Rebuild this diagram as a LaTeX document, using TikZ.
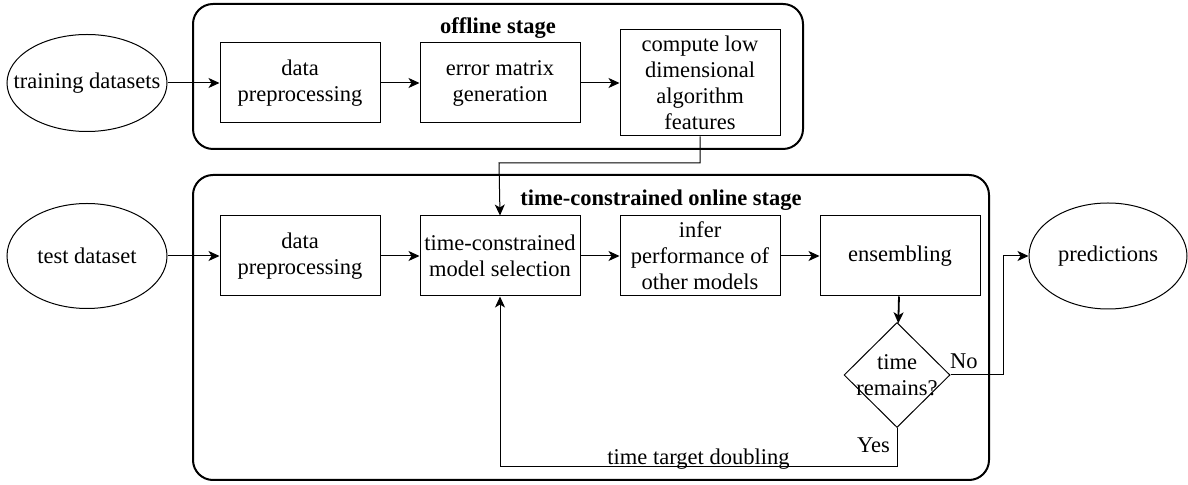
\documentclass[tikz,border=0pt]{standalone}
\usepackage{fontspec}
\setmainfont{Liberation Serif}
\usetikzlibrary{shapes,arrows.meta,positioning}
\tikzset{
  every node/.style={
    font=\fontsize{11.25pt}{13pt}\selectfont
  },
  title/.style={
    font=\fontsize{11.25pt}{13pt}\selectfont\bfseries
  },
  process/.style={
    shape=rectangle,
    draw,
    line width=0.5pt,
    minimum width=80pt,
    minimum height=40pt,
    inner sep=0pt,
    align=center
  },
  terminal/.style={
    shape=ellipse,
    draw,
    line width=0.5pt,
    minimum width=80pt,
    minimum height=#1,
    inner sep=0pt
  },
  decision/.style={
    shape=diamond,
    draw,
    line width=0.5pt,
    minimum width=53pt,
    minimum height=52.5pt,
    inner sep=0pt
  },
  stage/.style={
    draw,
    line width=1pt,
    rounded corners=10pt
  },
  flow/.style={
    -{Stealth[length=5.5pt,width=5pt,inset=1.5pt]},
    line width=0.5pt
  }
}

\begin{document}
\begin{tikzpicture}[x=0.5pt,y=-0.5pt,node distance=19.5pt]
  \useasboundingbox (0,0) rectangle (1188,485);
  % stage frames
  \draw[stage] (193,4) rectangle (803,149);
  \draw[stage] (193,175) rectangle (989,480);
  \node[title] (offtitle) at (498,28) {offline stage};
  \node[title] (ontitle) at (661,200) {time-constrained online stage};

  % offline stage
  \node[terminal=48.5pt, label=center:training datasets] (train) at (87,83) {};
  \node[process] (prep1) at (300,83) {data\\preprocessing};
  \node[process, right=of prep1] (errmat) {error matrix\\generation};
  \node[process, right=of errmat, minimum height=53pt] (features) {compute low\\dimensional\\algorithm\\features};

  % online stage
  \node[terminal=52.5pt, label=center:test dataset] (test) at (87,256) {};
  \node[process] (prep2) at (300,256) {data\\preprocessing};
  \node[process, right=of prep2] (select) {time-constrained\\model selection};
  \node[process, right=of select] (infer) {infer\\performance of\\other models};
  \node[process, right=of infer] (ensemble) {ensembling};
  \node[decision, label={[align=center]center:time\\remains?}] (check) at (897,375) {};
  \node[terminal=53pt, minimum width=79pt, label=center:predictions] (pred) at (1108,256) {};

  % connectors
  \coordinate (feedin) at (499,163);
  \draw[flow] (train) -- (prep1);
  \draw[flow] (prep1) -- (errmat);
  \draw[flow] (errmat) -- (features);
  \draw[flow] (features.south) |- (feedin) -- (select.north);
  \draw[flow] (test) -- (prep2);
  \draw[flow] (prep2) -- (select);
  \draw[flow] (select) -- (infer);
  \draw[flow] (infer) -- (ensemble);
  \draw[flow, line width=0.9pt] (ensemble) -- (check);
  \draw[flow] (check.east) -- node[anchor=base, yshift=3pt, pos=0.25] {No} ++(53,0) |- (pred.west);
  \draw[flow] (check.south) -- node[left, pos=0.45] {Yes} ++(0,39)
    -| node[anchor=base, yshift=1pt, pos=0.25] {time target doubling} (select.south);
\end{tikzpicture}
\end{document}
